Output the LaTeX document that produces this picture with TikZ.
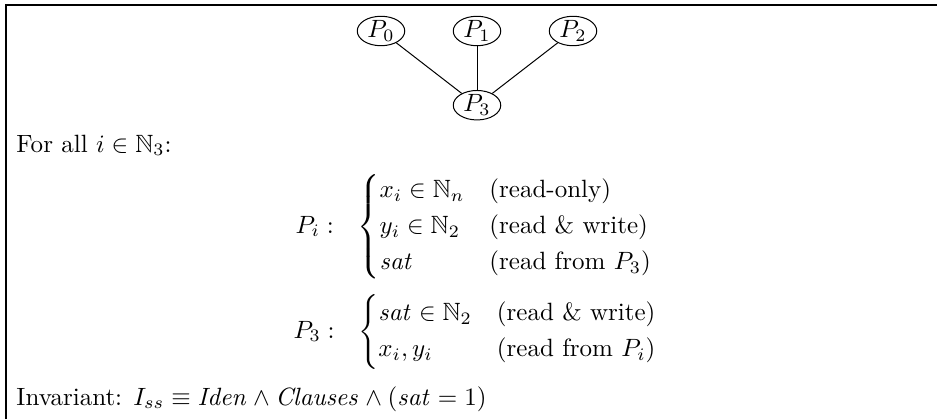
\documentclass[tikz,border=0pt]{standalone}
\usepackage{amsmath,amssymb}
\usetikzlibrary{positioning, shapes.geometric}

\begin{document}
\begin{tikzpicture}[
      x=0.4pt, y=-0.4pt,
      proc/.style={draw, ellipse, inner sep=0pt, minimum width=19pt},
      txt/.style={anchor=base west, inner sep=0pt}
    ]
      \useasboundingbox (0,0) rectangle (937,419);
      \draw[line width=0.7pt] (6,419) -- (6,5) -- (937,5);
      % the four processes
      \node[proc] (p1) at (477,31) {$P_1$};
      \node[proc, left=19pt of p1] (p0) {$P_0$};
      \node[proc, right=19pt of p1] (p2) {$P_2$};
      \node[proc, below=17.5pt of p1] (p3) {$P_3$};
      \draw (p0) -- (p3);
      \draw (p1) -- (p3);
      \draw (p2) -- (p3);
      \node[txt] (forall) at (16,152) {For all $i \in \mathbb{N}_3$:};
      \renewcommand{\arraystretch}{1.05}
      \node[txt] (vari) at (295,233) {$P_i :\ \ \begin{cases}
          x_i \in \mathbb{N}_n & \text{(read-only)}\\
          y_i \in \mathbb{N}_2 & \text{(read \& write)}\\
          \mathit{sat} & \text{(read from $P_3$)}
        \end{cases}$};
      \node[txt] (var3) at (293,338) {$P_3 :\ \ \begin{cases}
          \mathit{sat} \in \mathbb{N}_2 & \text{(read \& write)}\\
          x_i, y_i & \text{(read from $P_i$)}
        \end{cases}$};
      \node[txt] (inv) at (16,405) {Invariant: $I_{ss} \equiv \mathit{Iden}
        \land \mathit{Clauses} \land (\mathit{sat} = 1)$};
    \end{tikzpicture}
\end{document}
